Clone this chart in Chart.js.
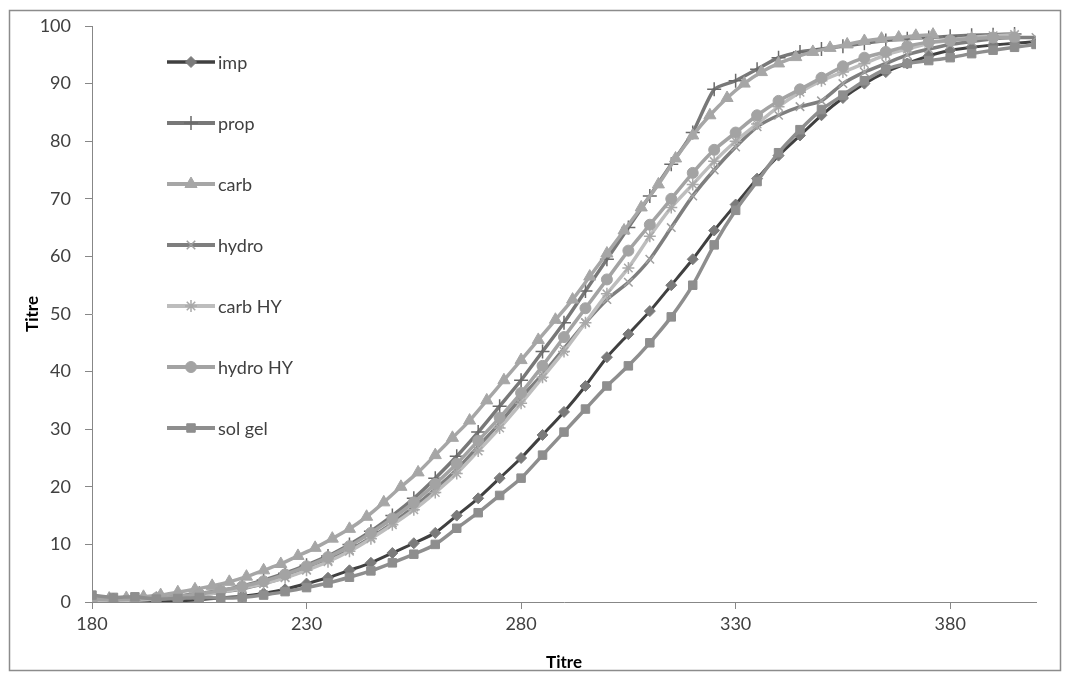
<!DOCTYPE html>
<html>
<head>
<meta charset="utf-8">
<script src="https://cdn.jsdelivr.net/npm/chart.js@4.4.1/dist/chart.umd.min.js"></script>
<style>
  html, body { margin: 0; padding: 0; background: #ffffff; }
  #wrap { position: relative; width: 1067px; height: 675px; }
</style>
</head>
<body>
<div id="wrap"><canvas id="c" width="1067" height="675"></canvas></div>
<script>
// ---- data ----
const seriesNames = ["imp", "prop", "carb", "hydro", "carb HY", "hydro HY", "sol gel"];

const xStep5 = [180,185,190,195,200,205,210,215,220,225,230,235,240,245,250,255,260,265,270,275,280,285,290,295,300,305,310,315,320,325,330,335,340,345,350,355,360,365,370,375,380,385,390,395,400];
const xCarb = [180,184,188,192,196,200,204,208,212,216,220,224,228,232,236,240,244,248,252,256,260,264,268,272,276,280,284,288,292,296,300,304,308,312,316,320,324,328,332,336,340,344,348,352,356,360,364,368,372,376];

const impY    = [0.8,0.6,0.3,0.2,0.2,0.4,0.7,1.0,1.5,2.2,3.2,4.2,5.5,6.8,8.5,10.2,12.0,15.0,18.0,21.5,25.0,29.0,33.0,37.5,42.5,46.5,50.5,55.0,59.5,64.5,69.0,73.5,77.5,81.0,84.5,87.5,90.0,92.0,93.5,94.8,95.8,96.3,96.7,97.0,97.3];
const propY   = [0.3,0.3,0.4,0.6,1.0,1.5,2.0,2.8,3.8,5.0,6.4,8.0,10.0,12.3,15.0,18.0,21.5,25.3,29.5,34.0,38.5,43.5,48.5,54.0,59.5,65.0,70.5,76.0,81.5,89.0,90.5,92.5,94.5,95.5,96.0,96.5,97.0,97.5,97.8,98.0,98.2,98.4,98.5,98.6];
const carbY   = [0.5,0.6,0.7,0.9,1.2,1.7,2.2,2.8,3.5,4.4,5.5,6.6,8.0,9.4,11.0,12.7,14.8,17.3,20.0,22.5,25.5,28.5,31.5,35.0,38.5,42.0,45.5,49.0,52.5,56.5,60.5,64.5,68.5,72.5,77.0,81.0,84.5,87.5,90.0,92.0,93.5,94.6,95.5,96.2,96.8,97.4,97.8,98.0,98.3,98.5];
const hydroY  = [0.3,0.3,0.4,0.5,0.8,1.2,1.7,2.3,3.2,4.3,5.6,7.2,9.0,11.2,13.7,16.5,19.6,23.0,27.0,31.0,35.5,39.5,44.0,48.5,52.5,55.5,59.5,65.0,70.5,75.0,79.0,82.5,84.5,86.0,87.0,90.0,92.0,93.5,95.0,96.0,96.8,97.3,97.8,98.0,98.0];
const carbHYY = [0.2,0.2,0.3,0.5,0.8,1.2,1.7,2.4,3.2,4.2,5.5,7.0,8.8,11.0,13.4,16.0,19.0,22.3,26.2,30.2,34.5,39.0,43.5,48.5,53.5,58.0,63.5,68.5,72.5,76.5,80.0,83.0,86.0,88.5,90.5,92.0,93.5,95.0,96.0,97.0,97.5,98.0,98.3,98.5];
const hydroHYY= [0.5,0.4,0.5,0.7,1.0,1.4,2.0,2.7,3.6,4.8,6.2,7.8,9.7,12.0,14.5,17.3,20.5,24.0,28.0,32.0,36.3,41.0,46.0,51.0,56.0,61.0,65.5,70.0,74.5,78.5,81.5,84.5,87.0,89.0,91.0,93.0,94.5,95.5,96.5,97.2,97.5,97.8,98.0,98.0];
const solGelY = [1.2,0.8,0.9,0.5,0.6,0.8,0.7,0.8,1.2,1.8,2.5,3.3,4.3,5.4,6.8,8.3,10.0,12.8,15.5,18.5,21.5,25.5,29.5,33.5,37.5,41.0,45.0,49.5,55.0,62.0,68.0,73.0,78.0,82.0,85.5,88.0,90.5,92.5,93.5,94.0,94.5,95.2,95.8,96.3,96.8];

const xTickLabels = [180, 230, 280, 330, 380];
const yTickLabels = [0,10,20,30,40,50,60,70,80,90,100];
const axisTitleX = "Titre";
const axisTitleY = "Titre";

// ---- styling ----
const styles = [
  { line: "#404040", point: "#7b7b7b", pointStyle: "rectRot", radius: 5.5, width: 3 },
  { line: "#787878", point: "#6a6a6a", pointStyle: "cross", radius: 7, width: 3.5 },
  { line: "#a6a6a6", point: "#a6a6a6", pointStyle: "triangle", radius: 7, width: 3.5 },
  { line: "#7e7e7e", point: "#a0a0a0", pointStyle: "crossRot", radius: 6, width: 3.5 },
  { line: "#bdbdbd", point: "#a9a9a9", pointStyle: "star", radius: 6, width: 3.5 },
  { line: "#a3a3a3", point: "#a3a3a3", pointStyle: "circle", radius: 5.5, width: 3.5 },
  { line: "#8e8e8e", point: "#8e8e8e", pointStyle: "rect", radius: 6, width: 3.5 }
];

function pts(xs, ys) { return ys.map((y, i) => ({ x: xs[i], y: y })); }

const seriesData = [
  pts(xStep5, impY),
  pts(xStep5, propY),
  pts(xCarb, carbY),
  pts(xStep5, hydroY),
  pts(xStep5, carbHYY),
  pts(xStep5, hydroHYY),
  pts(xStep5, solGelY)
];

function thinMarker(s) { return s === "cross" || s === "crossRot" || s === "star"; }

const datasets = seriesNames.map((name, i) => ({
  label: name,
  data: seriesData[i],
  borderColor: styles[i].line,
  backgroundColor: styles[i].point,
  pointBackgroundColor: styles[i].point,
  pointBorderColor: styles[i].point,
  pointBorderWidth: thinMarker(styles[i].pointStyle) ? 1.5 : 1,
  pointStyle: styles[i].pointStyle,
  pointRadius: styles[i].radius,
  borderWidth: styles[i].width,
  tension: 0.2,
  order: seriesNames.length - i
}));

const FONT = "Lato, 'Open Sans', 'DejaVu Sans', sans-serif";

const legendPlugin = {
  id: "inlineLegend",
  afterDraw(chart) {
    const ctx = chart.ctx;
    ctx.save();
    seriesNames.forEach((name, i) => {
      const y = 62 + 61 * i;
      const st = styles[i];
      ctx.strokeStyle = st.line;
      ctx.lineWidth = st.width + 0.5;
      ctx.beginPath();
      ctx.moveTo(167, y);
      ctx.lineTo(215, y);
      ctx.stroke();
      ctx.fillStyle = st.point;
      ctx.strokeStyle = st.point;
      ctx.lineWidth = thinMarker(st.pointStyle) ? 1.5 : 1;
      Chart.helpers.drawPoint(ctx, { pointStyle: st.pointStyle, radius: st.radius, borderWidth: ctx.lineWidth, rotation: 0 }, 191, y);
      ctx.fillStyle = "#404040";
      ctx.font = "18px " + FONT;
      ctx.textBaseline = "middle";
      ctx.textAlign = "left";
      ctx.fillText(name, 218, y + 1);
    });
    // outer frame
    ctx.strokeStyle = "#8c8c8c";
    ctx.lineWidth = 1.5;
    ctx.strokeRect(9.5, 10.5, 1051, 660);
    ctx.restore();
  }
};

new Chart(document.getElementById("c"), {
  type: "line",
  data: { datasets: datasets },
  options: {
    responsive: false,
    animation: false,
    layout: { padding: { left: 10, right: 31, top: 26, bottom: 4 } },
    plugins: { legend: { display: false }, tooltip: { enabled: false } },
    scales: {
      x: {
        type: "linear",
        min: 180, max: 400,
        afterBuildTicks: (s) => { s.ticks = xTickLabels.map(v => ({ value: v })); },
        afterFit: (s) => { s.height = 69; },
        grid: { drawOnChartArea: false, drawTicks: true, tickLength: 7, color: "#878787" },
        border: { color: "#878787", width: 1 },
        ticks: { color: "#404040", font: { family: FONT, size: 18 }, padding: 4, maxRotation: 0 },
        title: { display: true, text: axisTitleX, color: "#000000", font: { family: FONT, size: 17, weight: "bold" }, padding: { top: 0, bottom: -2 } }
      },
      y: {
        min: 0, max: 100,
        afterBuildTicks: (s) => { s.ticks = yTickLabels.map(v => ({ value: v })); },
        afterFit: (s) => { s.width = 82; },
        grid: { drawOnChartArea: false, drawTicks: true, tickLength: 7, color: "#878787" },
        border: { color: "#878787", width: 1 },
        ticks: { color: "#404040", font: { family: FONT, size: 18 }, padding: 14 },
        title: { display: true, text: axisTitleY, color: "#000000", font: { family: FONT, size: 17, weight: "bold" }, padding: { top: 12, bottom: 0 } }
      }
    }
  },
  plugins: [legendPlugin]
});
</script>
</body>
</html>
